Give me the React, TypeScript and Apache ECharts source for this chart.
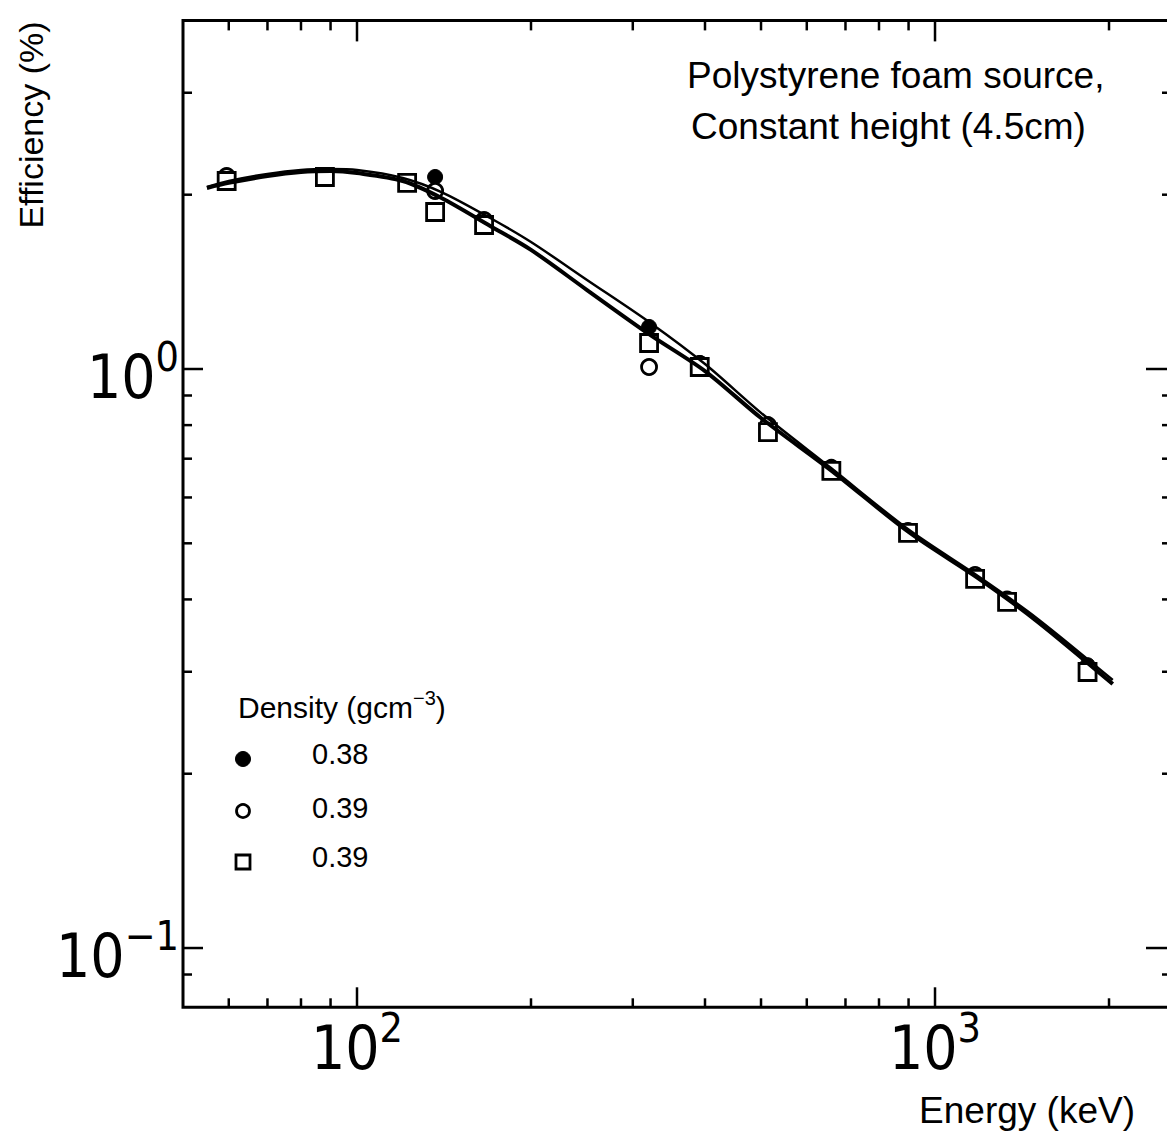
import React, { useEffect, useRef } from 'react';
import * as echarts from 'echarts';

// ---- Data ----
const energies = [59.5, 88.0, 122.1, 136.5, 165.9, 320.1, 391.7, 514.0, 661.7, 898.0, 1173.2, 1332.5, 1836.1];
const eff038Filled = [2.14, 2.15, 2.11, 2.146, 1.81, 1.182, 1.024, 0.8, 0.672, 0.525, 0.439, 0.4, 0.308];
const eff039Circle = [2.154, 2.15, 2.1, 2.03, 1.808, 1.008, 1.02, 0.8, 0.675, 0.525, 0.441, 0.4, 0.302];
const eff039Square = [2.112, 2.146, 2.096, 1.867, 1.773, 1.109, 1.008, 0.778, 0.667, 0.521, 0.434, 0.396, 0.2997];

const fitEnergies = [55, 60, 70, 80, 90, 100, 120, 140, 170, 200, 250, 320, 400, 500, 660, 900, 1200, 1500, 2030];
const fitUpper = [2.062, 2.112, 2.172, 2.207, 2.215, 2.207, 2.138, 2.021, 1.823, 1.657, 1.425, 1.206, 1.02, 0.84, 0.675, 0.528, 0.4355, 0.3713, 0.2903];
const fitLower = [2.054, 2.096, 2.154, 2.189, 2.198, 2.18, 2.112, 1.974, 1.766, 1.606, 1.369, 1.149, 0.992, 0.823, 0.669, 0.523, 0.432, 0.367, 0.2857];

const xMinorTicks = [60, 70, 80, 90, 200, 300, 400, 500, 600, 700, 800, 900, 2000];
const xMajorTicks = [100, 1000];
const yMinorTicks = [0.09, 0.2, 0.3, 0.4, 0.5, 0.6, 0.7, 0.8, 0.9, 2, 3];
const yMajorTicks = [0.1, 1];

const legendLabels = ['0.38', '0.39', '0.39'];

const NARROW = "'Liberation Sans Narrow', 'DejaVu Sans Condensed', 'Liberation Sans', Arial, sans-serif";
const SANS = "'Liberation Sans', Arial, Helvetica, sans-serif";

function decadeLabel(v: number) {
  const e = Math.log10(v);
  const r = Math.round(e);
  if (Math.abs(e - r) > 1e-6) return '';
  const exp = r < 0 ? '\u2212' + Math.abs(r) : String(r);
  return `{b|10}{s|${exp}}`;
}

const zip = (xs: number[], ys: number[]) => xs.map((x, i) => [x, ys[i]]);

export default function App() {
  const ref = useRef<HTMLDivElement>(null);
  useEffect(() => {
    const chart = echarts.init(ref.current!, null, { renderer: 'svg' });

    const xTickData = [...xMinorTicks.map((v) => [v, 1, 0]), ...xMajorTicks.map((v) => [v, 1, 1])];
    const yTickData = [...yMinorTicks.map((v) => [100, v, 0]), ...yMajorTicks.map((v) => [100, v, 1])];

    const richAxis = {
      b: { fontSize: 60, fontFamily: NARROW, lineHeight: 60, color: '#000' },
      s: { fontSize: 41, fontFamily: NARROW, height: 19, lineHeight: 19, verticalAlign: 'top', color: '#000' },
    };

    const tickStyle = { stroke: '#000', lineWidth: 2.5 };

    chart.setOption({
      animation: false,
      backgroundColor: '#fff',
      grid: {
        left: 183,
        top: 20.4,
        width: 987,
        height: 986.9,
        show: true,
        borderColor: '#000',
        borderWidth: 3,
        backgroundColor: 'transparent',
      },
      xAxis: {
        type: 'log',
        logBase: 10,
        min: 50,
        max: 2550,
        axisLine: { show: false },
        axisTick: { show: false },
        splitLine: { show: false },
        minorTick: { show: false },
        axisLabel: {
          formatter: decadeLabel,
          rich: richAxis,
          margin: 11,
          showMinLabel: false,
          showMaxLabel: false,
        },
      },
      yAxis: {
        type: 'log',
        logBase: 10,
        min: 0.079,
        max: 4,
        axisLine: { show: false },
        axisTick: { show: false },
        splitLine: { show: false },
        minorTick: { show: false },
        axisLabel: {
          formatter: decadeLabel,
          rich: richAxis,
          margin: 4,
          padding: [16, 0, 0, 0],
          showMinLabel: false,
          showMaxLabel: false,
        },
      },
      series: [
        {
          type: 'custom',
          silent: true,
          data: xTickData,
          encode: { x: 0, y: 1 },
          renderItem: (params: any, api: any) => {
            const cs = params.coordSys;
            const x = api.coord([api.value(0), 1])[0];
            const major = api.value(2) === 1;
            const lt = major ? 21 : 10;
            const lb = major ? 20 : 9;
            return {
              type: 'group',
              children: [
                { type: 'line', shape: { x1: x, y1: cs.y, x2: x, y2: cs.y + lt }, style: tickStyle },
                { type: 'line', shape: { x1: x, y1: cs.y + cs.height, x2: x, y2: cs.y + cs.height - lb }, style: tickStyle },
              ],
            };
          },
        },
        {
          type: 'custom',
          silent: true,
          data: yTickData,
          encode: { x: 0, y: 1 },
          renderItem: (params: any, api: any) => {
            const cs = params.coordSys;
            const y = api.coord([100, api.value(1)])[1];
            const major = api.value(2) === 1;
            const ll = major ? 20 : 9;
            const lr = major ? 24 : 8;
            return {
              type: 'group',
              children: [
                { type: 'line', shape: { x1: cs.x, y1: y, x2: cs.x + ll, y2: y }, style: tickStyle },
                { type: 'line', shape: { x1: cs.x + cs.width, y1: y, x2: cs.x + cs.width - lr, y2: y }, style: tickStyle },
              ],
            };
          },
        },
        {
          name: 'fit upper',
          type: 'line',
          data: zip(fitEnergies, fitUpper),
          smooth: 0.3,
          showSymbol: false,
          silent: true,
          lineStyle: { color: '#000', width: 2.5 },
        },
        {
          name: 'fit lower',
          type: 'line',
          data: zip(fitEnergies, fitLower),
          smooth: 0.3,
          showSymbol: false,
          silent: true,
          lineStyle: { color: '#000', width: 4 },
        },
        {
          name: '0.38',
          type: 'scatter',
          data: zip(energies, eff038Filled),
          symbol: 'circle',
          symbolSize: 15,
          itemStyle: { color: '#000', borderColor: '#000', borderWidth: 1, opacity: 1 },
        },
        {
          name: '0.39 circle',
          type: 'scatter',
          data: zip(energies, eff039Circle),
          symbol: 'circle',
          symbolSize: 15,
          itemStyle: { color: '#fff', borderColor: '#000', borderWidth: 2.8, opacity: 1 },
        },
        {
          name: '0.39 square',
          type: 'scatter',
          data: zip(energies, eff039Square),
          symbol: 'rect',
          symbolSize: 17,
          itemStyle: { color: '#fff', borderColor: '#000', borderWidth: 2.8, opacity: 1 },
        },
      ],
      graphic: [
        {
          type: 'text',
          x: 31,
          y: 125,
          rotation: Math.PI / 2,
          style: { text: 'Efficiency (%)', font: `34px ${SANS}`, fill: '#000', textAlign: 'center', textVerticalAlign: 'middle' },
        },
        {
          type: 'text',
          x: 1135,
          y: 1110,
          style: { text: 'Energy (keV)', font: `37px ${SANS}`, fill: '#000', textAlign: 'right', textVerticalAlign: 'middle' },
        },
        {
          type: 'text',
          x: 687,
          y: 75,
          style: { text: 'Polystyrene foam source,', font: `37px ${SANS}`, fill: '#000', textAlign: 'left', textVerticalAlign: 'middle' },
        },
        {
          type: 'text',
          x: 691,
          y: 126,
          style: { text: 'Constant height (4.5cm)', font: `37px ${SANS}`, fill: '#000', textAlign: 'left', textVerticalAlign: 'middle' },
        },
        {
          type: 'text',
          x: 238,
          y: 707,
          style: {
            text: '{a|Density (gcm}{s|\u22123}{a|)}',
            rich: {
              a: { fontSize: 30, fontFamily: SANS, lineHeight: 30, color: '#000' },
              s: { fontSize: 20, fontFamily: SANS, height: 12, lineHeight: 12, verticalAlign: 'top', color: '#000' },
            },
            font: `30px ${SANS}`,
            fill: '#000',
            textAlign: 'left',
            textVerticalAlign: 'middle',
          },
        },
        { type: 'circle', shape: { cx: 243, cy: 759, r: 7.5 }, style: { fill: '#000', stroke: '#000', lineWidth: 1 } },
        { type: 'circle', shape: { cx: 243, cy: 811, r: 6.5 }, style: { fill: '#fff', stroke: '#000', lineWidth: 2.8 } },
        { type: 'rect', shape: { x: 236, y: 855, width: 14, height: 14 }, style: { fill: '#fff', stroke: '#000', lineWidth: 2.8 } },
        ...legendLabels.map((t, i) => ({
          type: 'text',
          x: 312,
          y: [754, 808, 857][i],
          style: { text: t, font: `29px ${SANS}`, fill: '#000', textAlign: 'left', textVerticalAlign: 'middle' },
        })),
      ],
    });
    return () => chart.dispose();
  }, []);
  return (
    <div style={{ position: 'absolute', left: 0, top: 0, width: 1167, height: 1138, overflow: 'hidden', background: '#fff' }}>
      <div ref={ref} style={{ width: 1180, height: 1138 }} />
    </div>
  );
}
